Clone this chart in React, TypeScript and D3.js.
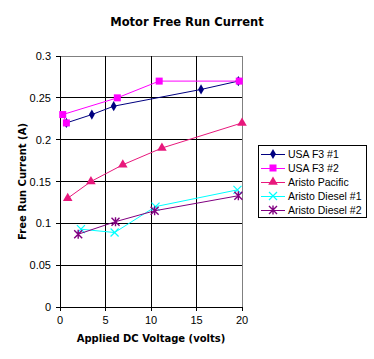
import React from "react";
import * as d3 from "d3";

const title = "Motor Free Run Current";
const xLabel = "Applied DC Voltage (volts)";
const yLabel = "Free Run Current (A)";
const xTicks = [0, 5, 10, 15, 20];
const yTicks = [0, 0.05, 0.1, 0.15, 0.2, 0.25, 0.3];
const yTickLabels = ["0", "0.05", "0.1", "0.15", "0.2", "0.25", "0.3"];

const seriesNames = ["USA F3 #1", "USA F3 #2", "Aristo Pacific", "Aristo Diesel #1", "Aristo Diesel #2"];
const seriesColors = ["#000080", "#ff00ff", "#e8187c", "#00ffff", "#800080"];
const seriesMarkers = ["diamond", "square", "triangle", "x", "asterisk"];

const usaF3_1: [number, number][] = [[0.7, 0.22], [3.5, 0.23], [5.9, 0.24], [15.5, 0.26], [19.6, 0.27]];
const usaF3_2: [number, number][] = [[0.7, 0.22], [0.3, 0.23], [6.3, 0.25], [10.9, 0.27], [19.7, 0.27]];
const aristoPacific: [number, number][] = [[0.85, 0.13], [3.4, 0.15], [6.9, 0.17], [11.2, 0.19], [20, 0.22]];
const aristoDiesel1: [number, number][] = [[2.3, 0.093], [6.0, 0.089], [10.5, 0.12], [19.5, 0.14]];
const aristoDiesel2: [number, number][] = [[2.0, 0.087], [6.1, 0.102], [10.4, 0.115], [19.6, 0.133]];
const seriesData = [usaF3_1, usaF3_2, aristoPacific, aristoDiesel1, aristoDiesel2];

function Marker({ kind, x, y, color }: { kind: string; x: number; y: number; color: string }) {
  if (kind === "diamond") {
    return <path d={d3.symbol().type(d3.symbolDiamond).size(30)() as string} transform={`translate(${x},${y})`} fill={color} />;
  }
  if (kind === "square") {
    return <rect x={x - 3.5} y={y - 3.5} width={7} height={7} fill={color} />;
  }
  if (kind === "triangle") {
    return <path d={d3.symbol().type(d3.symbolTriangle).size(40)() as string} transform={`translate(${x},${y})`} fill={color} />;
  }
  if (kind === "x") {
    return (
      <path d={`M${x - 4},${y - 4}L${x + 4},${y + 4}M${x - 4},${y + 4}L${x + 4},${y - 4}`} stroke={color} strokeWidth={1.2} fill="none" />
    );
  }
  return (
    <path
      d={`M${x - 4},${y - 4}L${x + 4},${y + 4}M${x - 4},${y + 4}L${x + 4},${y - 4}M${x},${y - 4.5}L${x},${y + 4.5}`}
      stroke={color}
      strokeWidth={1.4}
      fill="none"
    />
  );
}

export default function App() {
  const W = 374, H = 359;
  const left = 60, right = 242, top = 56, bottom = 307;
  const x = d3.scaleLinear().domain([0, 20]).range([left, right]);
  const y = d3.scaleLinear().domain([0, 0.3]).range([bottom, top]);
  const line = d3.line<[number, number]>().x(d => x(d[0])).y(d => y(d[1]));
  const tickFont = "'Liberation Sans', Arial, sans-serif";
  const boldFont = "'DejaVu Sans', sans-serif";

  const legX = 258, legY = 145, legW = 108, legH = 72, rowH = 14;

  return (
    <svg width={W} height={H} style={{ position: "absolute", left: 0, top: 0 }} shapeRendering="crispEdges">
      <rect x={0} y={0} width={W} height={H} fill="#fff" />
      <text x={187} y={26} textAnchor="middle" fontFamily={boldFont} fontWeight="bold" fontSize={11.5}>{title}</text>

      {/* gridlines */}
      {yTicks.map(t => (
        <line key={"gy" + t} x1={left - 4} x2={right} y1={y(t)} y2={y(t)} stroke={t === 0.3 ? "#808080" : "#000"} />
      ))}
      {xTicks.map(t => (
        <line key={"gx" + t} x1={x(t)} x2={x(t)} y1={top} y2={bottom + 4} stroke={t === 20 ? "#808080" : "#000"} />
      ))}
      <line x1={left - 4} x2={left} y1={top} y2={top} stroke="#000" />
      <line x1={right} x2={right} y1={bottom} y2={bottom + 4} stroke="#000" />
      <line x1={left} x2={left} y1={top} y2={bottom + 4} stroke="#000" />
      <line x1={left - 4} x2={right} y1={bottom} y2={bottom} stroke="#000" />

      {/* tick labels */}
      {yTicks.map((t, i) => (
        <text key={"ly" + t} x={left - 9} y={y(t) + 4} textAnchor="end" fontFamily={tickFont} fontSize={11}>{yTickLabels[i]}</text>
      ))}
      {xTicks.map(t => (
        <text key={"lx" + t} x={x(t)} y={bottom + 17} textAnchor="middle" fontFamily={tickFont} fontSize={11}>{t}</text>
      ))}

      <text x={151} y={342} textAnchor="middle" fontFamily={boldFont} fontWeight="bold" fontSize={10}>{xLabel}</text>
      <text transform={`translate(26,${(top + bottom) / 2}) rotate(-90)`} textAnchor="middle" fontFamily={boldFont} fontWeight="bold" fontSize={10}>{yLabel}</text>

      {/* series */}
      <g shapeRendering="auto">
        {seriesData.map((data, i) => (
          <g key={"s" + i}>
            <path d={line(data) as string} fill="none" stroke={seriesColors[i]} strokeWidth={1} />
            {data.map((d, j) => (
              <Marker key={j} kind={seriesMarkers[i]} x={x(d[0])} y={y(d[1])} color={seriesColors[i]} />
            ))}
          </g>
        ))}
      </g>

      {/* legend */}
      <rect x={legX + 0.5} y={legY + 0.5} width={legW} height={legH} fill="#fff" stroke="#000" />
      {seriesNames.map((name, i) => {
        const cy = legY + 9 + i * rowH;
        return (
          <g key={"lg" + i}>
            <line x1={legX + 3} x2={legX + 27} y1={cy} y2={cy} stroke={seriesColors[i]} />
            <g shapeRendering="auto">
              <Marker kind={seriesMarkers[i]} x={legX + 15} y={cy} color={seriesColors[i]} />
            </g>
            <text x={legX + 30} y={cy + 4} fontFamily={tickFont} fontSize={10.5}>{name}</text>
          </g>
        );
      })}
    </svg>
  );
}
